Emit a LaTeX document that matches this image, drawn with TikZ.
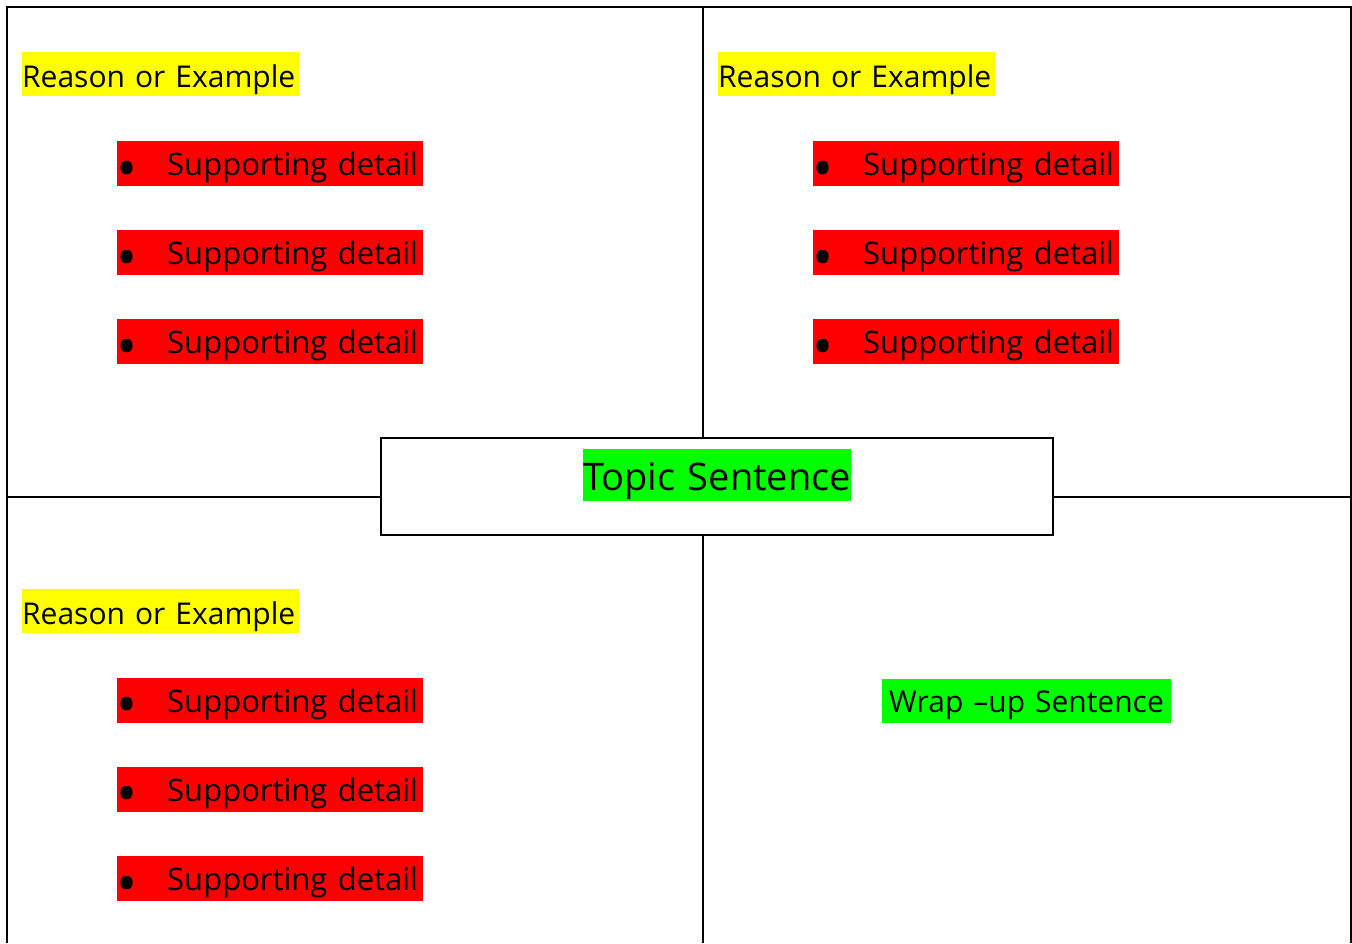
\documentclass[tikz,border=0pt]{standalone}
\usepackage{fontspec}
\setmainfont{Open Sans}

\definecolor{hlyellow}{RGB}{255,255,0}
\definecolor{hlred}{RGB}{255,0,0}
\definecolor{hlgreen}{RGB}{0,255,0}

\tikzset{
  reason/.style={fill=hlyellow, inner sep=0pt, anchor=west, minimum height=44pt,
    text height=34pt, text depth=8pt,
    text width=277pt, align=left, font=\fontsize{30}{36}\selectfont},
  detail/.style={fill=hlred, inner sep=0pt, anchor=west, minimum height=45pt,
    text height=32pt, text depth=8pt,
    text width=306pt, align=left, font=\fontsize{31}{36}\selectfont},
  sentence/.style={fill=hlgreen, inner sep=0pt, minimum height=44pt, align=center,
    text height=30pt, text depth=8pt,
    font=\fontsize{30}{36}\selectfont}
}
\newcommand{\detailtext}{\makebox[50pt][l]{\hspace*{-1pt}\raisebox{-12.5pt}{\fontsize{56}{56}\selectfont\textbullet}}Supporting detail}

\begin{document}
\begin{tikzpicture}[x=1pt, y=-1pt]

  \useasboundingbox (0, 0) rectangle (1352, 943);

  % frame and quarters
  \draw[line width=2pt] (7, 943) -- (7, 7) -- (1351, 7) -- (1351, 943);
  \draw[line width=1.5pt] (703, 7) -- (703, 943);
  \draw[line width=1.5pt] (7, 497) -- (1351, 497);

  % centre box
  \node[draw, line width=1.5pt, fill=white, inner sep=0pt,
    minimum width=672pt, minimum height=97pt] (topicbox) at (717, 486.5) {};
  \node[sentence, minimum height=52pt, text width=268pt,
    text height=40pt, text depth=9pt,
    font=\fontsize{38}{44}\selectfont] (topic) at (717, 475) {Topic Sentence};

  % top left
  \node[reason] (reasonA) at (22, 74) {Reason or Example};
  \node[detail] (detailA1) at (117, 163.5) {\detailtext};
  \node[detail] (detailA2) at (117, 252.5) {\detailtext};
  \node[detail] (detailA3) at (117, 341.5) {\detailtext};

  % top right
  \node[reason] (reasonB) at (718, 74) {Reason or Example};
  \node[detail] (detailB1) at (813, 163.5) {\detailtext};
  \node[detail] (detailB2) at (813, 252.5) {\detailtext};
  \node[detail] (detailB3) at (813, 341.5) {\detailtext};

  % bottom left
  \node[reason] (reasonC) at (22, 611) {Reason or Example};
  \node[detail] (detailC1) at (117, 700) {\detailtext};
  \node[detail] (detailC2) at (117, 789) {\detailtext};
  \node[detail] (detailC3) at (117, 878.5) {\detailtext};

  % bottom right
  \node[sentence, text width=289pt] (wrapup) at (1026.5, 701) {Wrap –up Sentence};

\end{tikzpicture}
\end{document}
